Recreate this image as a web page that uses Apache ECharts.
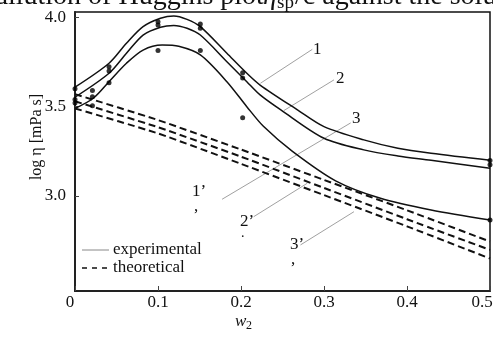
<!DOCTYPE html>
<html>
<head>
<meta charset="utf-8">
<script src="https://cdn.jsdelivr.net/npm/echarts@6/dist/echarts.min.js"></script>
<style>
  html, body { margin: 0; padding: 0; background: #fff; }
  #chart { width: 493px; height: 339px; }
</style>
</head>
<body>
<div id="chart"></div>
<script>
// Axis ticks
const w2Ticks = [0, 0.1, 0.2, 0.3, 0.4, 0.5];
const logEtaTicks = [3.0, 3.5, 4.0];

// Experimental (fitted) curves 1, 2, 3
const expW2_1 = [0, 0.041, 0.062, 0.082, 0.103, 0.119, 0.135, 0.151, 0.183, 0.207, 0.223, 0.268, 0.30, 0.348, 0.389, 0.429, 0.5];
const expLog_1 = [3.609, 3.743, 3.855, 3.948, 3.995, 4.008, 3.989, 3.948, 3.799, 3.687, 3.621, 3.482, 3.388, 3.314, 3.267, 3.239, 3.20];

const expW2_2 = [0, 0.041, 0.062, 0.082, 0.103, 0.119, 0.135, 0.151, 0.183, 0.207, 0.223, 0.248, 0.30, 0.348, 0.389, 0.429, 0.5];
const expLog_2 = [3.553, 3.687, 3.799, 3.901, 3.945, 3.955, 3.939, 3.901, 3.752, 3.64, 3.566, 3.482, 3.323, 3.258, 3.224, 3.20, 3.155];

const expW2_3 = [0, 0.022, 0.041, 0.062, 0.082, 0.105, 0.125, 0.151, 0.183, 0.207, 0.227, 0.262, 0.314, 0.368, 0.429, 0.5];
const expLog_3 = [3.49, 3.547, 3.64, 3.743, 3.817, 3.845, 3.838, 3.79, 3.64, 3.50, 3.39, 3.25, 3.085, 2.987, 2.922, 2.866];

// Measured points
const dotW2 = [0, 0.021, 0.041, 0.1, 0.151, 0.202, 0.5];
const dotLog_1 = [3.60, 3.59, 3.724, 3.976, 3.963, 3.69, 3.198];
const dotLog_2 = [3.54, 3.555, 3.70, 3.957, 3.939, 3.66, 3.175];
const dotLog_3 = [3.52, 3.505, 3.634, 3.814, 3.814, 3.438, 2.866];

// Theoretical lines 1', 2', 3'
const theoW2 = [0, 0.1, 0.2, 0.3, 0.4, 0.5];
const theoLog_1 = [3.57, 3.425, 3.26, 3.09, 2.92, 2.745];
const theoLog_2 = [3.53, 3.385, 3.22, 3.045, 2.87, 2.698];
const theoLog_3 = [3.49, 3.35, 3.18, 3.005, 2.83, 2.65];

// Leader lines for the curve labels (data coordinates: start on curve, end at label)
const leaders = [
  [[0.2234, 3.631], [0.2859, 3.821]],
  [[0.2516, 3.478], [0.3120, 3.650]],
  [[0.2258, 3.116], [0.3321, 3.409]],
  [[0.1772, 2.9815], [0.2258, 3.116]],
  [[0.2153, 2.884], [0.2798, 3.071]],
  [[0.2717, 2.726], [0.3361, 2.912]]
];

const zip = (xs, ys) => xs.map((x, i) => [x, ys[i]]);
const SERIF = 'Liberation Serif';

const solid = (xs, ys) => ({
  type: 'line', data: zip(xs, ys), smooth: 0.3, symbol: 'none', silent: true,
  lineStyle: { color: '#111', width: 1.5 }, z: 3
});
const dashed = (xs, ys) => ({
  type: 'line', data: zip(xs, ys), smooth: 0.2, symbol: 'none', silent: true,
  lineStyle: { color: '#111', width: 2, type: [7, 4] }, z: 3
});
const dots = (xs, ys) => ({
  type: 'scatter', data: zip(xs, ys), symbol: 'circle', symbolSize: 5, silent: true,
  itemStyle: { color: '#000' }, z: 4
});
const leaderSeries = leaders.map(seg => ({
  type: 'line', data: seg, symbol: 'none', silent: true,
  lineStyle: { color: '#888', width: 0.8 }, z: 2
}));

const txt = (x, y, s, size, extra) => ({
  type: 'text', x, y, silent: true,
  style: Object.assign({ text: s, font: size + 'px "' + SERIF + '"', fill: '#111', align: 'left', verticalAlign: 'middle' }, extra || {})
});

const labelStyle = { fontFamily: SERIF, fontSize: 17, color: '#111' };

const chart = echarts.init(document.getElementById('chart'), null, { renderer: 'canvas' });
chart.setOption({
  animation: false,
  backgroundColor: '#fff',
  grid: {
    left: 75, right: 3, top: 12, bottom: 48, containLabel: false, outerBoundsMode: 'none',
    show: true, borderColor: '#111', borderWidth: 1.5
  },
  xAxis: {
    type: 'value', min: 0, max: 0.5, interval: 0.1,
    axisLine: { lineStyle: { color: '#222', width: 2 } },
    axisTick: { inside: true, length: 5, customValues: w2Ticks, lineStyle: { color: '#444' } },
    axisLabel: {
      customValues: w2Ticks, margin: 3, color: '#111', fontFamily: SERIF, fontSize: 17,
      // first and last labels sit slightly inward of their ticks
      formatter: v => v === 0 ? '{z|0}' : (v === 0.5 ? '{e|0.5}' : v.toFixed(1)),
      rich: {
        z: Object.assign({ padding: [0, 10, 0, 0] }, labelStyle),
        e: Object.assign({ padding: [0, 16, 0, 0] }, labelStyle)
      }
    },
    splitLine: { show: false }
  },
  yAxis: {
    type: 'value', min: 2.468, max: 4.03,
    axisLine: { show: true, lineStyle: { color: '#222', width: 2 } },
    axisTick: { show: true, inside: true, length: 4, customValues: logEtaTicks, lineStyle: { color: '#444' } },
    axisLabel: {
      customValues: logEtaTicks, margin: 9, color: '#111', fontFamily: SERIF, fontSize: 17,
      formatter: v => v.toFixed(1)
    },
    splitLine: { show: false }
  },
  series: [
    solid(expW2_1, expLog_1),
    solid(expW2_2, expLog_2),
    solid(expW2_3, expLog_3),
    dashed(theoW2, theoLog_1),
    dashed(theoW2, theoLog_2),
    dashed(theoW2, theoLog_3),
    dots(dotW2, dotLog_1),
    dots(dotW2, dotLog_2),
    dots(dotW2, dotLog_3)
  ].concat(leaderSeries),
  graphic: [
    // heading, cut off at the top edge
    txt(-6, -3, 'dilution of Huggins plot', 28),
    txt(263, -3, 'η', 28, { font: 'italic 28px "' + SERIF + '"' }),
    txt(277, 3, 'sp', 19),
    txt(295, -3, '/c against the solute concentration', 28),
    // axis titles
    {
      type: 'text', x: 37, y: 137, rotation: Math.PI / 2, silent: true,
      style: { text: 'log η [mPa s]', font: '16px "' + SERIF + '"', fill: '#111', align: 'center', verticalAlign: 'middle' }
    },
    txt(235, 322, 'w', 17, { font: 'italic 17px "' + SERIF + '"' }),
    txt(246, 326, '2', 12),
    // curve labels
    txt(313, 50, '1', 17),
    txt(336, 79, '2', 17),
    txt(352, 119, '3', 17),
    txt(192, 192, '1’', 17),
    txt(194, 207, ',', 17),
    txt(240, 222, '2’', 17),
    txt(241, 233, '.', 14),
    txt(290, 245, '3’', 17),
    txt(291, 260, ',', 17),
    // legend
    { type: 'line', silent: true, shape: { x1: 82, y1: 250, x2: 109, y2: 250 }, style: { stroke: '#888', lineWidth: 1 } },
    txt(113, 250, 'experimental', 17),
    { type: 'line', silent: true, shape: { x1: 82, y1: 268, x2: 110, y2: 268 }, style: { stroke: '#111', lineWidth: 1.5, lineDash: [5, 5] } },
    txt(113, 268, 'theoretical', 17)
  ]
});
</script>
</body>
</html>
